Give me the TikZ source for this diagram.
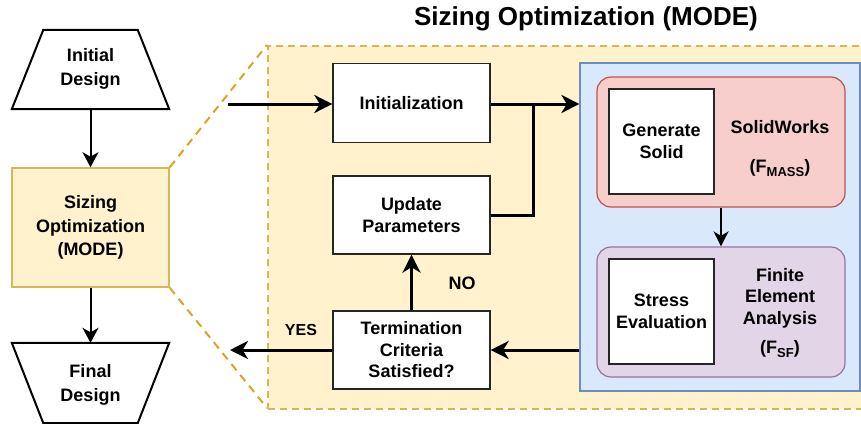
\documentclass[tikz,border=0pt]{standalone}
\usepackage{fontspec}
\setmainfont{Liberation Sans}
\usetikzlibrary{arrows.meta}
\definecolor{yfill}{HTML}{FFF2CC}
\definecolor{ydraw}{HTML}{D6B656}
\definecolor{ddash}{HTML}{D8A526}
\definecolor{bfill}{HTML}{DAE8FC}
\definecolor{bdraw}{HTML}{6C8EBF}
\definecolor{rfill}{HTML}{F8CECC}
\definecolor{rdraw}{HTML}{B85450}
\definecolor{pfill}{HTML}{E1D5E7}
\definecolor{pdraw}{HTML}{9673A6}
\begin{document}
\begin{tikzpicture}[x=1pt,y=-1pt,
  txt/.style={font=\fontsize{18}{21.5}\selectfont\bfseries, align=center, inner sep=0pt},
  ltxt/.style={font=\fontsize{18}{23.5}\selectfont\bfseries, align=center, inner sep=0pt},
  wbox/.style={txt, draw=black!85, fill=white, line width=1.3pt, minimum width=157pt, minimum height=78pt},
  sbox/.style={txt, draw=black!85, fill=white, line width=1.3pt, minimum width=105pt, minimum height=105pt},
  rbox/.style={draw=#1draw, fill=#1fill, line width=1.2pt, rounded corners=14pt, minimum width=248pt, minimum height=130pt, inner sep=0pt},
  thk/.style={line width=3pt, -{Stealth[length=18pt,width=18pt,inset=5.5pt]}},
  thkn/.style={line width=3pt},
  thn/.style={line width=2pt, -{Stealth[length=15pt,width=16pt,inset=4.5pt]}}]
\clip (0,0) rectangle (861,423);
\fill[white] (0,0) rectangle (861,423);

% title
\node[font=\fontsize{26}{30}\selectfont\bfseries, inner sep=0pt] (title) at (586,19) {Sizing Optimization (MODE)};

% zoom dashed lines
\coordinate (zt) at (267,45);
\coordinate (zb) at (267,408);
\node[draw=ydraw, fill=yfill, line width=1.6pt, inner sep=0pt, minimum width=157pt, minimum height=119pt] (sizing) at (90.5,227.5) {};
\draw[ddash, line width=2pt, dash pattern=on 8pt off 6pt] (sizing.north east) -- (zt);
\draw[ddash, line width=2pt, dash pattern=on 8pt off 6pt] (sizing.south east) -- (zb);
\node[ltxt] at (sizing.center) {Sizing\\Optimization\\(MODE)};

% big dashed region
\node[draw=ydraw, fill=yfill, line width=1.6pt, dash pattern=on 7pt off 5pt, inner sep=0pt, minimum width=600pt, minimum height=363pt, anchor=north west] (region) at (267,45) {};

% blue panel
\node[draw=bdraw, fill=bfill, line width=1.2pt, inner sep=0pt, minimum width=280pt, minimum height=328pt] (blue) at (720,227) {};

% left column
\node[ltxt, minimum width=157pt, minimum height=79pt] (initd) at (90.5,69.5) {};
\draw[line width=2pt, fill=white, line join=miter] (initd.south west) -- (initd.south east) -- ([xshift=-31.5pt]initd.north east) -- ([xshift=31.5pt]initd.north west) -- cycle;
\node[ltxt] at (90.5,69) {Initial\\Design};

\node[ltxt, minimum width=157pt, minimum height=80pt] (finald) at (90.5,383) {};
\draw[line width=2pt, fill=white, line join=miter] (finald.north west) -- (finald.north east) -- ([xshift=-31.5pt]finald.south east) -- ([xshift=31.5pt]finald.south west) -- cycle;
\node[ltxt] at (90.5,385) {Final\\Design};

\draw[thn] (initd.south) -- (sizing.north);
\draw[thn] (sizing.south) -- (finald.north);

% loop boxes
\node[wbox, minimum height=79pt] (init) at (411.5,103) {Initialization};
\node[wbox] (upd) at (411.5,215) {Update\\Parameters};
\node[wbox] (term) at (411.5,350) {Termination\\Criteria\\Satisfied?};

% red and purple groups
\node[rbox=r] (red) at (721,142) {};
\node[rbox=p] (purple) at (721,312) {};
\node[sbox] (gen) at (661.5,141.5) {Generate\\Solid};
\node[sbox] (stress) at (661.5,311.5) {Stress\\Evaluation};
\node[txt] (sw) at (780,127) {SolidWorks};
\node[txt] (fm) at (780,168) {(F\raisebox{-3.5pt}{\fontsize{13}{13}\selectfont MASS})};
\node[txt] (fea) at (780,298) {Finite\\Element\\Analysis};
\node[txt] (fsf) at (780,349) {(F\raisebox{-3.5pt}{\fontsize{13}{13}\selectfont SF})};

% connectors
\coordinate (inA) at (228,104);
\coordinate (outA) at (230,350);
\coordinate (jn) at (533,104);
\draw[thk] (inA) -- (init.west |- inA);
\draw[thk] (init.east |- inA) -- (blue.west |- inA);
\draw[thkn, line join=miter] (upd.east) -| (jn);
\draw[thk] (term.north) -- (upd.south);
\draw[thk] (blue.west |- term) -- (term.east);
\draw[thk] (term.west) -- (outA);
\draw[line width=2pt, -{Stealth[length=15pt,width=15pt,inset=4.5pt]}] (red.south) -- (purple.north);

% labels
\node[txt] (no) at (462,283) {NO};
\node[txt, font=\fontsize{16}{19}\selectfont\bfseries] (yes) at (301,330) {YES};
\end{tikzpicture}
\end{document}
